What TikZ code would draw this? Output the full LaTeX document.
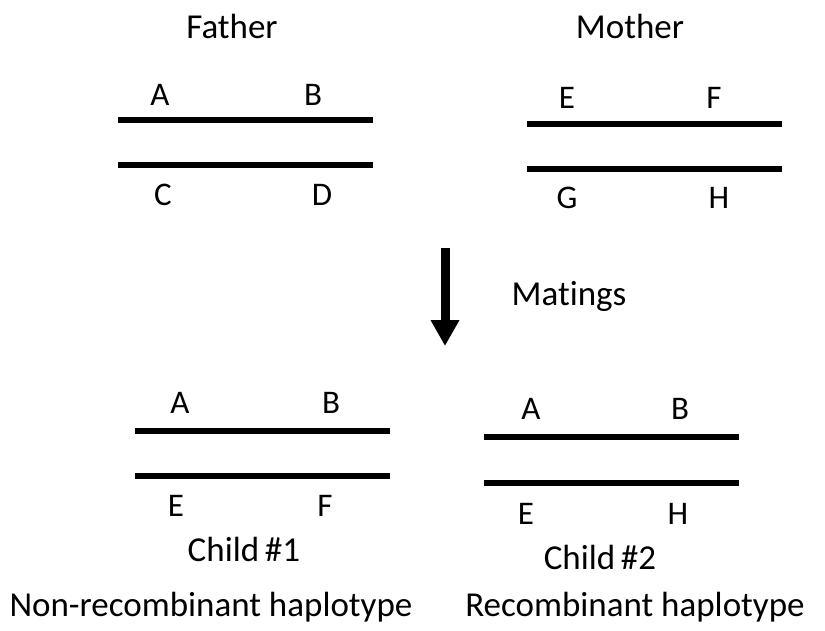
\documentclass[tikz,border=0pt]{standalone}
\usepackage{fontspec}
\setmainfont[Ligatures=NoCommon]{Carlito}
\usetikzlibrary{arrows.meta}
\begin{document}
\begin{tikzpicture}[x=1pt,y=-1pt,
  chrom/.style={line width=6pt},
  lbl/.style={font=\fontsize{33}{38}\selectfont, inner sep=0pt},
  ttl/.style={font=\fontsize{35}{40}\selectfont, inner sep=0pt},
  big/.style={font=\fontsize{35}{40}\selectfont, inner sep=0pt}]
\useasboundingbox (0,0) rectangle (825,630);
% Father
\node[ttl] (father) at (232,26) {Father};
\draw[chrom] (118,120) -- (373,120);
\draw[chrom] (118,165) -- (373,165);
\node[lbl] (fa) at (160,95) {A};
\node[lbl] (fb) at (313,95) {B};
\node[lbl] (fc) at (163,195) {C};
\node[lbl] (fd) at (322,195) {D};
% Mother
\node[ttl] (mother) at (630,26) {Mother};
\draw[chrom] (527,124) -- (782,124);
\draw[chrom] (527,169) -- (782,169);
\node[lbl] (me) at (567,98) {E};
\node[lbl] (mf) at (714,98) {F};
\node[lbl] (mg) at (567,198) {G};
\node[lbl] (mh) at (719,198) {H};
% Arrow
\coordinate (arrtop) at (445,248);
\coordinate (arrbot) at (445,346);
\draw[line width=9pt, -{Triangle[width=27pt,length=26pt]}] (arrtop) -- (arrbot);
\node[ttl] (matings) at (569,296) {Matings};
% Child 1
\draw[chrom] (135,431) -- (390,431);
\draw[chrom] (135,476) -- (390,476);
\node[lbl] (c1a) at (180,403) {A};
\node[lbl] (c1b) at (331,403) {B};
\node[lbl] (c1e) at (176,506) {E};
\node[lbl] (c1f) at (325,506) {F};
\node[ttl] (child1) at (244,549) {Child\,\#1};
% Child 2
\draw[chrom] (484,437) -- (739,437);
\draw[chrom] (484,483) -- (739,483);
\node[lbl] (c2a) at (531,409) {A};
\node[lbl] (c2b) at (680,409) {B};
\node[lbl] (c2e) at (526,514) {E};
\node[lbl] (c2h) at (678,514) {H};
\node[ttl] (child2) at (600,557) {Child\,\#2};
% Bottom captions
\node[big] (nonrec) at (211,607) {Non-recombinant haplotype};
\node[big] (rec) at (635,607) {Recombinant haplotype};
\end{tikzpicture}
\end{document}
